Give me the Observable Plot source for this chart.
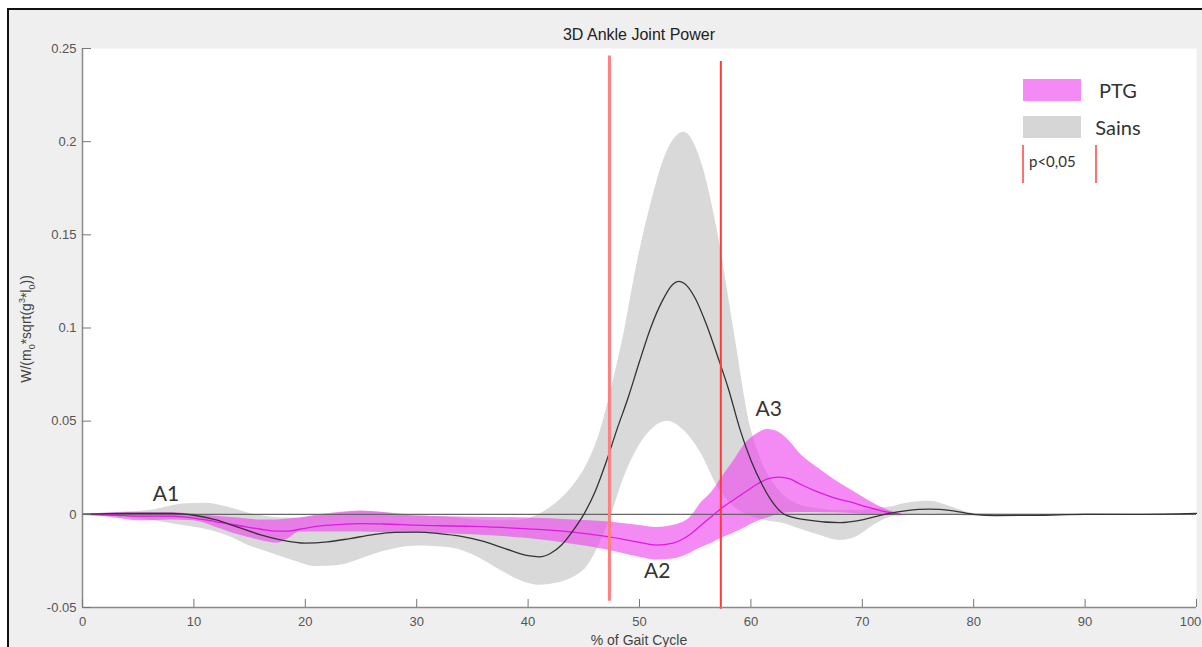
<!DOCTYPE html>
<html>
<head>
<meta charset="utf-8">
<script src="https://cdn.jsdelivr.net/npm/d3@7"></script>
<script src="https://cdn.jsdelivr.net/npm/@observablehq/plot@0.6"></script>
<style>
  html, body { margin: 0; padding: 0; width: 1202px; height: 647px; overflow: hidden; background: #fff; }
  #fig { position: absolute; left: 7px; top: 8px; right: 0; bottom: 0; background: #efefef;
         border-left: 2px solid #111; border-top: 2px solid #111; z-index: 0; }
  #chart { position: absolute; left: 0; top: 0; z-index: 1; }
  .txt { position: absolute; z-index: 2; color: #222; white-space: nowrap; }
  #title { left: 439px; width: 400px; top: 26px; text-align: center;
           font: 16px "Liberation Sans", Arial, sans-serif; color: #222; }
  #xlabel { left: 439px; width: 400px; top: 632px; text-align: center;
            font: 14px "Liberation Sans", Arial, sans-serif; color: #444; }
  #ylabel { left: 27px; top: 329px; transform: translate(-50%, -50%) rotate(-90deg);
            font: 14px "Liberation Sans", Arial, sans-serif; color: #444; }
  #ylabel sub, #ylabel sup { font-size: 9px; }
  .sw { position: absolute; z-index: 2; width: 58px; height: 22px; }
  .leg { font: 20px Lato, "Open Sans", sans-serif; color: #333; text-align: center; width: 60px; }
  .redbar { position: absolute; z-index: 2; width: 2px; background: #ff7070; }
</style>
</head>
<body>
<div id="fig"></div>
<div id="chart"></div>
<div id="title" class="txt">3D Ankle Joint Power</div>
<div id="xlabel" class="txt">% of Gait Cycle</div>
<div id="ylabel" class="txt">W/(m<sub>0</sub>*sqrt(g<sup>3</sup>*l<sub>0</sub>))</div>

<div class="sw" style="left:1023px; top:79px; background:#f48af4;"></div>
<div class="txt leg" style="left:1088px; top:78px;">PTG</div>
<div class="sw" style="left:1023px; top:116px; background:#d6d6d6;"></div>
<div class="txt leg" style="left:1088px; top:115px;">Sains</div>
<div class="redbar" style="left:1022px; top:145px; height:38px;"></div>
<div class="redbar" style="left:1095px; top:145px; height:38px;"></div>
<div class="txt" style="left:1029px; top:152px; font: 15px Lato, 'Open Sans', sans-serif; color:#333;">p&lt;0,05</div>

<script>
// Axis ticks
const xTicks = [0, 10, 20, 30, 40, 50, 60, 70, 80, 90, 100];
const yTicks = [-0.05, 0, 0.05, 0.1, 0.15, 0.2, 0.25];
const yTickLabels = ["-0.05", "0", "0.05", "0.1", "0.15", "0.2", "0.25"];

// Sains (healthy) group: mean curve and ±SD band, % of gait cycle
const sainsMeanPct = [0, 4, 8, 10, 12, 14, 16, 18, 20, 22, 24, 26, 28, 30, 32, 34, 36, 38, 40, 41, 42, 43, 44, 45,
  46, 47, 48, 49, 50, 51, 52, 53, 53.5, 54, 55, 56, 57, 58, 59, 60, 61, 62, 63, 65, 68, 70, 72, 74, 76, 78, 80, 82,
  86, 90, 95, 100];
const sainsMean = [0, 0.0005, 0.0005, -0.0005, -0.003, -0.007, -0.011, -0.014, -0.0155, -0.0148, -0.013, -0.011,
  -0.0097, -0.0095, -0.0103, -0.0118, -0.0145, -0.0185, -0.0222, -0.0228, -0.021, -0.0165, -0.009, 0.0,
  0.012, 0.028, 0.046, 0.063, 0.082, 0.1, 0.114, 0.1235, 0.125, 0.124, 0.116, 0.102, 0.085, 0.067, 0.046, 0.029,
  0.016, 0.006, 0.0, -0.003, -0.0045, -0.003, 0.0, 0.002, 0.0028, 0.002, 0.0, -0.0007, -0.0005, 0.0, 0.0, 0.0005];

const sainsBandPct = [0, 3, 6, 9, 11, 13, 15, 17, 19, 21, 23, 25, 27, 30, 33, 35.5, 37.5, 39.5, 41, 42.5, 44, 45.3,
  46.5, 47.5, 48.5, 49.8, 51, 52.5, 54, 55.5, 57, 58.5, 60, 61, 62, 63, 64, 66, 68, 69.5, 71, 72.5, 74, 76, 78, 80,
  85, 90, 95, 100];
const sainsHigh = [0, 0.001, 0.002, 0.0055, 0.006, 0.004, 0.0005, -0.0015, -0.002, -0.001, 0.0005, 0.0015, 0.001,
  -0.0005, -0.0015, -0.003, -0.0035, -0.003, 0.0, 0.006, 0.015, 0.027, 0.045, 0.068, 0.094, 0.135, 0.166, 0.195,
  0.205, 0.19, 0.152, 0.098, 0.046, 0.028, 0.017, 0.01, 0.006, 0.003, 0.002, 0.002, 0.003, 0.004, 0.006, 0.007,
  0.004, 0.0005, 0.0, 0.0005, 0.0, 0.0005];
const sainsLow = [0, -0.001, -0.003, -0.006, -0.008, -0.0115, -0.017, -0.021, -0.025, -0.028, -0.0275, -0.024, -0.02,
  -0.017, -0.018, -0.023, -0.03, -0.036, -0.038, -0.037, -0.034, -0.028, -0.015, 0.0, 0.018, 0.035, 0.045, 0.05,
  0.045, 0.033, 0.015, 0.004, -0.001, -0.003, -0.004, -0.005, -0.007, -0.011, -0.014, -0.012, -0.006, -0.0015,
  -0.0005, 0.0, -0.0005, -0.001, -0.0005, -0.0005, -0.0005, 0.0];

// PTG group: mean curve and ±SD band
const ptgPct = [0, 3, 5, 8, 10, 12, 14, 16, 17.5, 18.5, 19.5, 21, 23, 25, 27, 30, 35, 40, 44, 47, 50, 51.5, 53,
  54.5, 55.5, 56.5, 57.3, 58.5, 59.5, 60.5, 61.5, 62.5, 63.5, 64.5, 66, 67.4, 69, 70.4, 72, 73.5];
const ptgMean = [0, -0.0005, -0.001, -0.001, -0.002, -0.004, -0.006, -0.008, -0.009, -0.009, -0.008, -0.0065,
  -0.0055, -0.005, -0.0052, -0.0058, -0.0065, -0.0078, -0.0095, -0.0118, -0.015, -0.0165, -0.0155, -0.011, -0.006,
  -0.001, 0.003, 0.008, 0.012, 0.016, 0.019, 0.02, 0.019, 0.016, 0.012, 0.009, 0.0065, 0.004, 0.0015, 0.0];
const ptgHigh = [0, 0.0008, 0.001, 0.001, 0.0, -0.001, -0.002, -0.003, -0.003, -0.0025, -0.002, -0.0005, 0.001,
  0.0018, 0.001, -0.001, -0.0015, -0.002, -0.003, -0.004, -0.006, -0.007, -0.006, -0.002, 0.006, 0.012, 0.019,
  0.029, 0.038, 0.043, 0.0455, 0.044, 0.039, 0.032, 0.025, 0.019, 0.013, 0.008, 0.003, 0.0];
const ptgLow = [0, -0.002, -0.0035, -0.003, -0.0035, -0.007, -0.011, -0.014, -0.0155, -0.013, -0.0095, -0.0095,
  -0.0095, -0.0095, -0.0098, -0.01, -0.011, -0.013, -0.016, -0.019, -0.023, -0.0245, -0.024, -0.021, -0.018,
  -0.0155, -0.013, -0.01, -0.007, -0.004, -0.002, 0.0, 0.0008, 0.001, 0.001, 0.0008, 0.0005, 0.0, 0.0, 0.0];

// Significant interval (p<0,05) bounds
const sigPct = [47.3, 57.3];
const sigTop = [0.246, 0.243];
const sigBottom = [-0.0467, -0.051];

// Phase labels
const phaseLabels = ["A1", "A2", "A3"];
const phasePct = [7.5, 51.6, 61.6];
const phaseVal = [0.0107, -0.0306, 0.0563];

const sainsBand = sainsBandPct.map((p, i) => ({pct: p, lo: sainsLow[i], hi: sainsHigh[i]}));
const sainsLine = sainsMeanPct.map((p, i) => ({pct: p, v: sainsMean[i]}));
const ptgBand = ptgPct.map((p, i) => ({pct: p, lo: ptgLow[i], hi: ptgHigh[i]}));
const ptgLine = ptgPct.map((p, i) => ({pct: p, v: ptgMean[i]}));
const sig = sigPct.map((p, i) => ({pct: p, top: sigTop[i], bottom: sigBottom[i], k: i}));
const phases = phaseLabels.map((t, i) => ({t, pct: phasePct[i], v: phaseVal[i]}));

const W = 1202, H = 647, mL = 82, mR = 6, mT = 48, mB = 40;
const frameW = W - mL - mR, frameH = H - mT - mB;
const lastTick = xTicks[xTicks.length - 1];

const chart = Plot.plot({
  width: W, height: H,
  marginLeft: mL, marginRight: mR, marginTop: mT, marginBottom: mB,
  x: {domain: [0, 100]},
  y: {domain: [-0.05, 0.25]},
  style: {background: "transparent", fontFamily: "'Liberation Sans', Arial, sans-serif", overflow: "visible"},
  marks: [
    Plot.frame({fill: "white", stroke: null}),
    Plot.areaY(sainsBand, {x: "pct", y1: "lo", y2: "hi", fill: "#d9d9d9", curve: "monotone-x"}),
    Plot.areaY(ptgBand, {x: "pct", y1: "lo", y2: "hi", fill: "#ee44ee", fillOpacity: 0.62, curve: "monotone-x"}),
    Plot.ruleY([0], {stroke: "#666", strokeWidth: 1.2}),
    Plot.line(ptgLine, {x: "pct", y: "v", stroke: "#e019e0", strokeWidth: 1.3, curve: "monotone-x"}),
    Plot.line(sainsLine, {x: "pct", y: "v", stroke: "#333", strokeWidth: 1.3, curve: "monotone-x"}),
    Plot.ruleX(sig.filter(d => d.k === 0), {x: "pct", y1: "bottom", y2: "top", stroke: "#ff7f7f", strokeWidth: 3}),
    Plot.ruleX(sig.filter(d => d.k === 1), {x: "pct", y1: "bottom", y2: "top", stroke: "#ff3a3a", strokeWidth: 2}),
    Plot.text(phases, {x: "pct", y: "v", text: "t", fontSize: 21, fill: "#333",
      fontFamily: "Lato, 'Open Sans', sans-serif"}),
    // axis lines
    Plot.ruleX([0], {stroke: "#8a8a8a", strokeWidth: 1.5}),
    Plot.ruleY([-0.05], {stroke: "#8a8a8a", strokeWidth: 1.5}),
    // inward tick marks
    Plot.ruleX(xTicks, {x: d => d, stroke: "#777", insetTop: frameH - 8}),
    Plot.ruleY(yTicks, {y: d => d, stroke: "#777", insetRight: frameW - 9}),
    // tick labels (the last one is nudged left so it stays inside the figure)
    Plot.axisX({ticks: xTicks.filter(t => t !== lastTick), tickSize: 0, tickPadding: 9, label: null,
      fontSize: 13, fill: "#555"}),
    Plot.axisX({ticks: [lastTick], tickSize: 0, tickPadding: 9, label: null, fontSize: 13, fill: "#555", dx: -6}),
    Plot.axisY({ticks: yTicks, tickSize: 0, tickPadding: 6, label: null, fontSize: 13, fill: "#555",
      tickFormat: d => yTickLabels[yTicks.indexOf(d)]})
  ]
});
document.getElementById("chart").appendChild(chart);
</script>
</body>
</html>
